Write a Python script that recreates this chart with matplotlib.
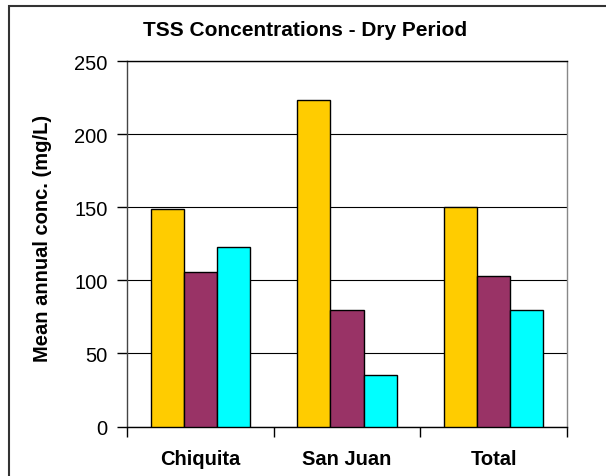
import numpy as np
import matplotlib.pyplot as plt
from matplotlib.patches import Rectangle

plt.rcParams['font.family'] = ['Liberation Sans', 'DejaVu Sans']

# Mean annual TSS concentration (mg/L), dry period
sites = ['Chiquita', 'San Juan', 'Total']
series_a = [148.5, 223, 150]
series_b = [105.5, 80, 103]
series_c = [122.5, 35, 80]
colors = ['#FFCC00', '#993366', '#00FFFF']

W, H = 606, 477
fig = plt.figure(figsize=(W / 100, H / 100), dpi=100)

# Chart area border (runs off the bottom/right edge)
fig.patches.append(Rectangle((9 / W, -0.1), 1.2, 1.1 - 6.5 / H,
                             transform=fig.transFigure, fill=False,
                             edgecolor='#333333', linewidth=1.5))

ax = fig.add_axes([127 / W, (H - 427.5) / H, 440 / W, 365.5 / H])

x = np.arange(len(sites))
w = 0.226
for i, (vals, c) in enumerate(zip([series_a, series_b, series_c], colors)):
    ax.bar(x + (i - 1) * w, vals, width=w, color=c, edgecolor='black',
           linewidth=1.0, zorder=3)

ax.set_xlim(-0.5, len(sites) - 0.5)
ax.set_ylim(0, 250)
ax.set_yticks(np.arange(0, 251, 50))
ax.yaxis.grid(True, color='black', linewidth=0.8, zorder=0)
ax.set_axisbelow(True)

# category boundaries as ticks, names centred between them
ax.set_xticks(np.arange(-0.5, len(sites), 1.0))
ax.set_xticklabels([])
ax.set_xticks(x, minor=True)
ax.set_xticklabels(sites, minor=True, fontsize=14.5, fontweight='bold')
ax.tick_params(axis='x', which='minor', length=0, pad=16)
ax.tick_params(axis='x', which='major', direction='out', length=7, width=1)
ax.tick_params(axis='y', direction='out', length=7, width=1, labelsize=14.5,
               pad=7)

ax.spines['left'].set_color('#444444')
ax.spines['bottom'].set_color('black')
ax.spines['top'].set_color('black')
ax.spines['right'].set_color('#888888')
for s in ax.spines.values():
    s.set_linewidth(1.0)

fig.text(42 / W, 1 - 238 / H, 'Mean annual conc. (mg/L)', rotation=90,
         ha='center', va='center', fontsize=14.5, fontweight='bold')
fig.text(305 / W, 1 - 31 / H, 'TSS Concentrations - Dry Period',
         ha='center', va='center', fontsize=15, fontweight='bold')

fig.savefig('out.png', dpi=100)
